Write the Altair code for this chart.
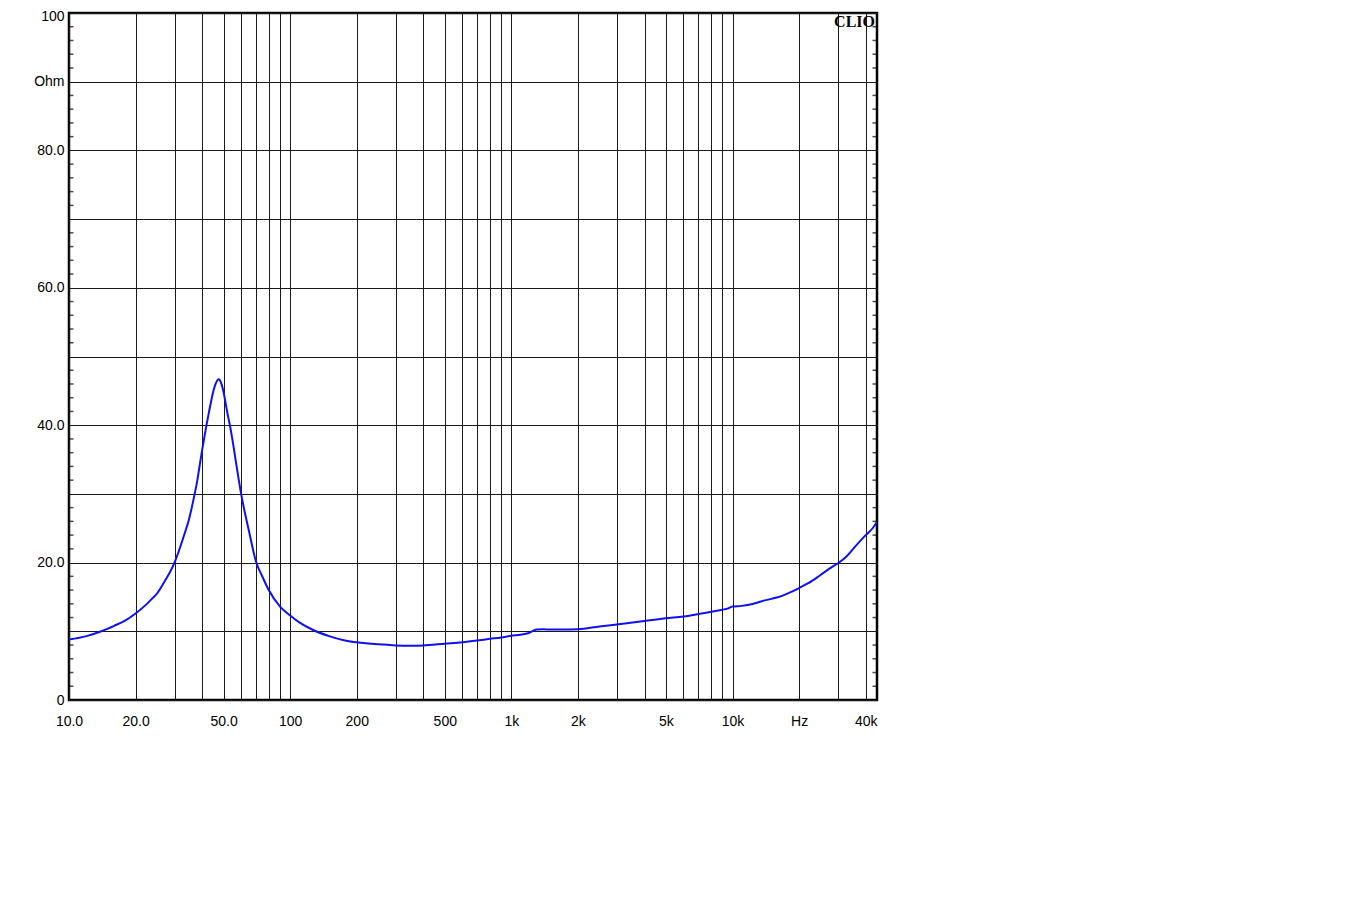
import altair as alt
import pandas as pd

# Impedance curve (Hz, Ohm)
freq = [10, 12, 14, 15, 16, 18, 20, 22, 24, 25, 27, 30, 33, 35, 37, 38, 39, 40,
        41, 42, 43, 44, 45, 46, 47, 47.5, 48, 49, 50, 51, 52, 53.6, 55, 57, 60,
        65, 70, 75, 80, 90, 100, 110, 125, 150, 175, 200, 250, 300, 350, 400,
        500, 600, 700, 800, 900, 1000, 1100, 1200, 1300, 1400, 1500, 1700, 2000,
        2500, 3000, 4000, 5000, 6000, 7000, 8000, 9000, 9500, 10000, 11000,
        12000, 13000, 14000, 16000, 18000, 20000, 22000, 25000, 28000, 30000,
        33000, 36000, 40000, 43000, 45000]
ohm = [8.8, 9.3, 10.0, 10.4, 10.8, 11.6, 12.6, 13.7, 14.9, 15.5, 17.2, 20.0, 23.8,
       26.5, 30.0, 31.9, 34.2, 36.4, 38.4, 40.3, 42.0, 43.6, 45.0, 46.0, 46.6,
       46.7, 46.6, 45.9, 44.8, 43.3, 41.8, 39.7, 37.6, 34.4, 30.0, 24.7, 20.2,
       17.9, 16.0, 13.6, 12.3, 11.3, 10.3, 9.3, 8.7, 8.4, 8.1, 7.95, 7.9, 7.95,
       8.2, 8.4, 8.65, 8.9, 9.1, 9.35, 9.5, 9.75, 10.25, 10.3, 10.25, 10.25,
       10.3, 10.7, 11.0, 11.5, 11.9, 12.15, 12.5, 12.85, 13.15, 13.3, 13.6, 13.7,
       13.9, 14.2, 14.5, 14.95, 15.6, 16.3, 17.0, 18.2, 19.3, 19.9, 21.0, 22.4,
       24.0, 25.0, 25.9]

x_grid = [10, 20, 30, 40, 50, 60, 70, 80, 90,
          100, 200, 300, 400, 500, 600, 700, 800, 900,
          1000, 2000, 3000, 4000, 5000, 6000, 7000, 8000, 9000,
          10000, 20000, 30000, 40000]
x_label_values = [10, 20, 50, 100, 200, 500, 1000, 2000, 5000, 10000, 20000, 40000]
x_label_texts = ["10.0", "20.0", "50.0", "100", "200", "500", "1k", "2k", "5k",
                 "10k", "Hz", "40k"]
y_grid = [0, 10, 20, 30, 40, 50, 60, 70, 80, 90, 100]
y_label_values = [0, 20, 40, 60, 80, 90, 100]
y_label_texts = ["0", "20.0", "40.0", "60.0", "80.0", "Ohm", "100"]
minor_y = [v for v in range(2, 100, 2) if v % 10 != 0]
x_min, x_max = 10, 45000
brand = "CLIO"


def label_expr(vals, texts):
    s = "''"
    for v, t in reversed(list(zip(vals, texts))):
        s = f"datum.value == {v} ? '{t}' : ({s})"
    return s


curve = pd.DataFrame({"f": freq, "z": ohm})
minor = pd.DataFrame({"z": minor_y})

FONT = "Liberation Sans, Arial"
GRID = "#1a1a1a"
xscale = alt.Scale(type="log", domain=[x_min, x_max], nice=False)
yscale = alt.Scale(domain=[0, 100], nice=False, zero=True)

xaxis = alt.Axis(
    values=x_grid, grid=True, gridColor=GRID, gridWidth=1, gridOpacity=1,
    ticks=False, domain=False, labelExpr=label_expr(x_label_values, x_label_texts),
    labelOverlap=False, labelFlush=False, labelBound=False, labelPadding=14,
    labelFontSize=14, labelFont=FONT, labelColor="black", title=None)
yaxis = alt.Axis(
    values=y_grid, grid=True, gridColor=GRID, gridWidth=1, gridOpacity=1,
    ticks=False, domain=False, labelExpr=label_expr(y_label_values, y_label_texts),
    labelOverlap=False, labelFlush=False, labelBound=False, labelPadding=5,
    labelOffset={"condition": {"test": f"datum.value == {y_grid[-1]}", "value": 3},
                 "value": 0},
    labelFontSize=14, labelFont=FONT, labelColor="black", title=None)

line = alt.Chart(curve).mark_line(
    color="#1010ee", strokeWidth=2, clip=True, interpolate="monotone"
).encode(
    x=alt.X("f:Q", scale=xscale, axis=xaxis),
    y=alt.Y("z:Q", scale=yscale, axis=yaxis),
)

left_ticks = alt.Chart(minor).mark_tick(
    orient="horizontal", size=9, thickness=1.5, color="black", clip=True
).encode(x=alt.XDatum(x_min, type="quantitative"),
         y=alt.Y("z:Q", scale=yscale, axis=yaxis))

right_ticks = alt.Chart(minor).mark_tick(
    orient="horizontal", size=9, thickness=1.5, color="black", clip=True
).encode(x=alt.XDatum(x_max, type="quantitative"),
         y=alt.Y("z:Q", scale=yscale, axis=yaxis))

clio = alt.Chart(pd.DataFrame({"t": [brand]})).mark_text(
    font="Liberation Serif", fontWeight="bold", fontSize=16, align="right",
    baseline="top", dx=-2, dy=1, color="black"
).encode(x=alt.XDatum(x_max, type="quantitative"),
         y=alt.YDatum(100, type="quantitative"), text="t:N")

chart = alt.layer(line, left_ticks, right_ticks, clio).properties(
    width=808, height=687,
    autosize=alt.AutoSizeParams(type="none"),
    padding={"left": 61, "top": 5, "right": 470, "bottom": 180},
    background="white",
).configure_view(stroke="black", strokeWidth=2.5)

chart.save("out.html", embed_options={"renderer": "svg", "actions": False})
